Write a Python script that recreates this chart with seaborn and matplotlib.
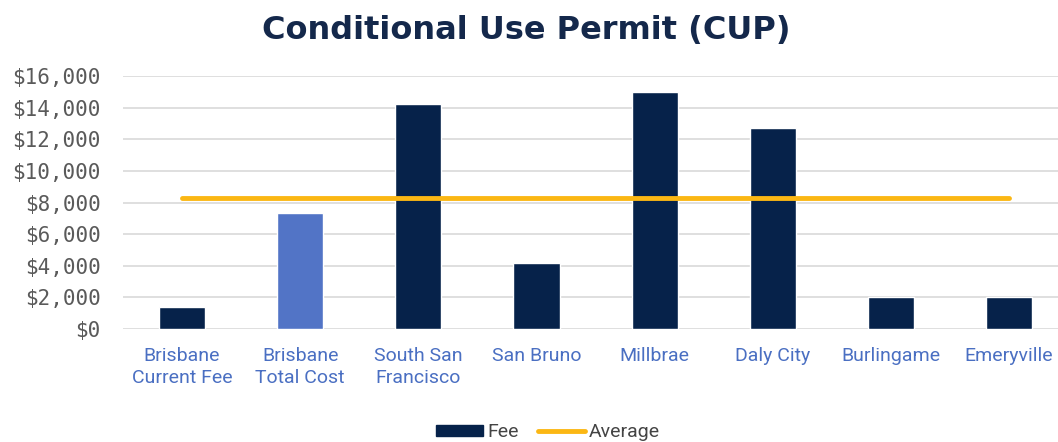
import matplotlib.pyplot as plt
import seaborn as sns
import numpy as np
import pandas as pd
from matplotlib.patches import Patch
from matplotlib.lines import Line2D

cities = ['Brisbane\nCurrent Fee', 'Brisbane\nTotal Cost', 'South San\nFrancisco', 'San Bruno',
          'Millbrae', 'Daly City', 'Burlingame', 'Emeryville']
fees = [1400, 7350, 14200, 4150, 15000, 12700, 2000, 2000]
average = [8300, 8300, 8300, 8300, 8300, 8300, 8300, 8300]
bar_colors = ['#06224a', '#5274c6', '#06224a', '#06224a', '#06224a', '#06224a', '#06224a', '#06224a']

df = pd.DataFrame({'city': cities, 'fee': fees, 'avg': average})

sns.set_theme(style='white')
plt.rcParams['font.family'] = ['Roboto', 'DejaVu Sans']

fig = plt.figure(figsize=(10.58, 4.42), dpi=100)
# the plot area runs a little past the right edge, as in the original crop
ax = fig.add_axes([0.1163, 0.2557, 0.8932, 0.5723])

sns.barplot(data=df, x='city', y='fee', hue='city', palette=bar_colors, legend=False,
            saturation=1, width=0.39, ax=ax, zorder=3)
ax.plot(np.arange(len(cities)), df['avg'], color='#fbb714', lw=3.5, zorder=4)

ax.set_ylim(0, 16000)
ax.set_xlim(-0.5, 7.5)
ax.set_yticks(np.arange(0, 16001, 2000))
ax.set_yticklabels([f'${v:,}' for v in range(0, 16001, 2000)],
                   family='DejaVu Sans Mono', fontsize=15, color='#5a5a5a')
ax.set_xticks(range(len(cities)))
ax.set_xticklabels(cities, fontsize=14, color='#4a6fc2', linespacing=1.25)
ax.tick_params(axis='y', length=0, pad=16)
ax.tick_params(axis='x', length=0, pad=13)
ax.set_xlabel('')
ax.set_ylabel('')
ax.yaxis.grid(True, color='#dcdcdc', lw=1.3, zorder=0)
for s in ax.spines.values():
    s.set_visible(False)

fig.text(0.497, 0.93, 'Conditional Use Permit (CUP)', ha='center', va='center', fontsize=23,
         fontweight='bold', color='#14284b', family=['DejaVu Sans'])

handles = [Patch(color='#06224a', label='Fee'),
           Line2D([0], [0], color='#fbb714', lw=3.5, label='Average')]
fig.legend(handles=handles, loc='center', bbox_to_anchor=(0.518, 0.022), ncol=2,
           frameon=False, fontsize=14, labelcolor='#444444', handlelength=2.4,
           handleheight=0.55, columnspacing=1.0, handletextpad=0.2)

fig.savefig('out.png', dpi=100)
